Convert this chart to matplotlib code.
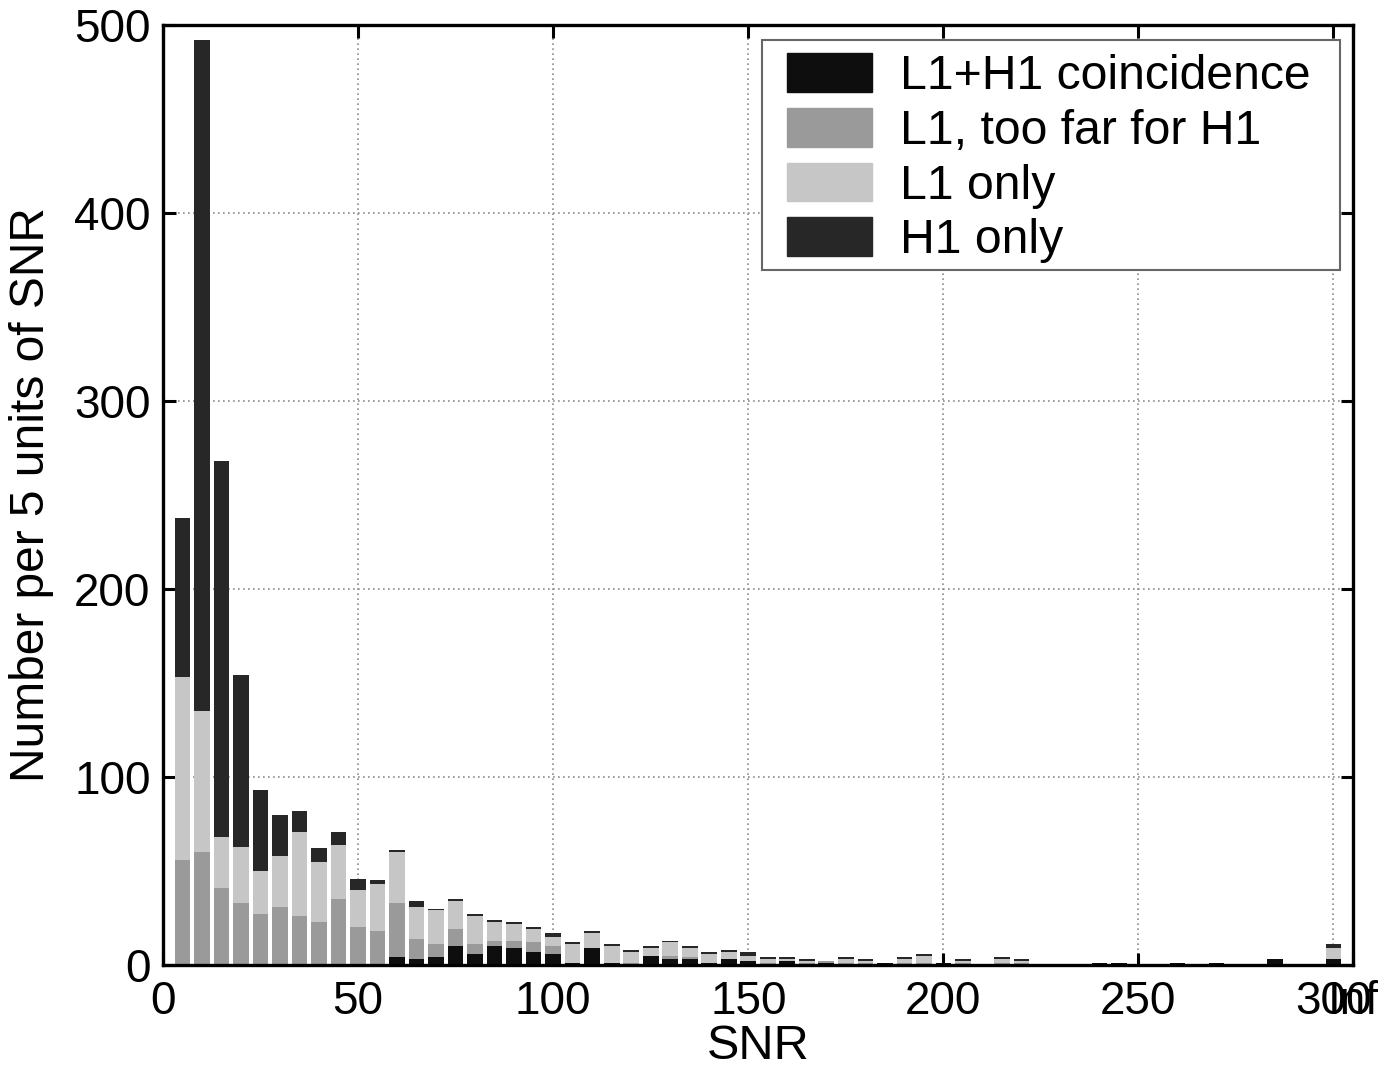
import numpy as np
import matplotlib
matplotlib.use("Agg")
import matplotlib.pyplot as plt
from matplotlib.patches import Patch, Rectangle

# Bin centres (5 units of SNR each); last bin (300) is the "Inf" overflow bin
snr_centers = list(range(5, 305, 5))

coinc = [0, 0, 0, 0, 0, 0, 0, 0, 0, 0,
         0, 4, 3, 4, 10, 6, 10, 9, 7, 6,
         1, 9, 1, 0, 5, 3, 3, 1, 3, 2,
         0, 2, 0, 1, 0, 0, 1, 0, 0, 1,
         0, 0, 0, 0, 0, 0, 0, 1, 1, 0,
         0, 1, 0, 1, 0, 0, 3, 0, 0, 3]
too_far = [56, 60, 41, 33, 27, 31, 26, 23, 35, 20,
           18, 29, 11, 7, 9, 5, 3, 4, 5, 4,
           0, 0, 0, 1, 0, 2, 1, 0, 0, 0,
           1, 0, 1, 1, 1, 1, 0, 1, 1, 0,
           1, 0, 1, 1, 0, 0, 0, 0, 0, 0,
           0, 0, 0, 0, 0, 0, 0, 0, 0, 0]
l1_only = [97, 75, 27, 30, 23, 27, 45, 32, 29, 20,
           25, 27, 17, 18, 15, 15, 10, 9, 7, 5,
           10, 8, 9, 6, 4, 7, 5, 5, 4, 3,
           2, 1, 1, 0, 2, 1, 0, 2, 4, 0,
           1, 0, 2, 1, 0, 0, 0, 0, 0, 0,
           0, 0, 0, 0, 0, 0, 0, 0, 0, 6]
h1_only = [85, 357, 200, 91, 43, 22, 11, 7, 7, 6,
           2, 1, 3, 1, 1, 1, 1, 1, 1, 2,
           1, 1, 1, 1, 1, 1, 1, 1, 1, 2,
           1, 1, 1, 0, 1, 1, 0, 1, 1, 0,
           1, 0, 1, 1, 0, 0, 0, 0, 0, 0,
           0, 0, 0, 0, 0, 0, 0, 0, 0, 2]

series_labels = ["L1+H1 coincidence", "L1, too far for H1", "L1 only", "H1 only"]
series_colors = ["#0e0e0e", "#9a9a9a", "#c6c6c6", "#272727"]

xtick_vals = [0, 50, 100, 150, 200, 250, 300, 305]
xtick_labels = ["0", "50", "100", "150", "200", "250", "300", "Inf"]
ytick_vals = [0, 100, 200, 300, 400, 500]

plt.rcParams['font.family'] = ['Liberation Sans', 'DejaVu Sans']

fig = plt.figure(figsize=(13.84, 10.69), dpi=100)
ax = fig.add_axes([0.1178, 0.0973, 0.8598, 0.8793])

x = np.array(snr_centers, dtype=float)
bottom = np.zeros(len(x))
handles = []
for vals, lab, col in zip([coinc, too_far, l1_only, h1_only], series_labels, series_colors):
    v = np.array(vals, dtype=float)
    ax.bar(x, v, width=4.0, bottom=bottom, color=col, linewidth=0, zorder=3)
    bottom += v
    handles.append(Patch(facecolor=col, edgecolor=col, label=lab))

ax.set_xlim(0, 305)
ax.set_ylim(0, 500)
ax.set_xticks(xtick_vals)
ax.set_xticklabels(xtick_labels)
ax.set_yticks(ytick_vals)

for s in ax.spines.values():
    s.set_linewidth(2.4)
    s.set_zorder(5)

ax.tick_params(axis='both', direction='in', length=9, width=2.2,
               top=True, right=True, labelsize=33, zorder=6)
ax.tick_params(axis='x', pad=11)
ax.tick_params(axis='y', pad=9)

# dotted grid at major ticks (excluding the Inf tick)
for gx in [50, 100, 150, 200, 250, 300]:
    ax.axvline(gx, color='#8c8c8c', linestyle=(0, (1, 2)), linewidth=1.2, zorder=1)
for gy in [100, 200, 300, 400]:
    ax.axhline(gy, color='#8c8c8c', linestyle=(0, (1, 2)), linewidth=1.2, zorder=1)

ax.set_xlabel("SNR", fontsize=35, labelpad=0)
ax.set_ylabel("Number per 5 units of SNR", fontsize=34.5)
ax.yaxis.set_label_coords(-0.0915, 0.5)

# legend frame drawn as a rectangle, legend entries inside it
frame = Rectangle((0.5034, 0.7394), 0.4857, 0.2447, transform=ax.transAxes,
                  facecolor='white', edgecolor='#666666', linewidth=1.5, zorder=9)
ax.add_patch(frame)
leg = ax.legend(handles=handles, loc='upper left', bbox_to_anchor=(0.5244, 0.9697),
                fontsize=34.7, frameon=False, handlelength=1.76,
                handleheight=0.85, handletextpad=0.58, labelspacing=0.18,
                borderpad=0.0, borderaxespad=0.0)
leg.set_zorder(10)

fig.savefig("out.png", dpi=100)
